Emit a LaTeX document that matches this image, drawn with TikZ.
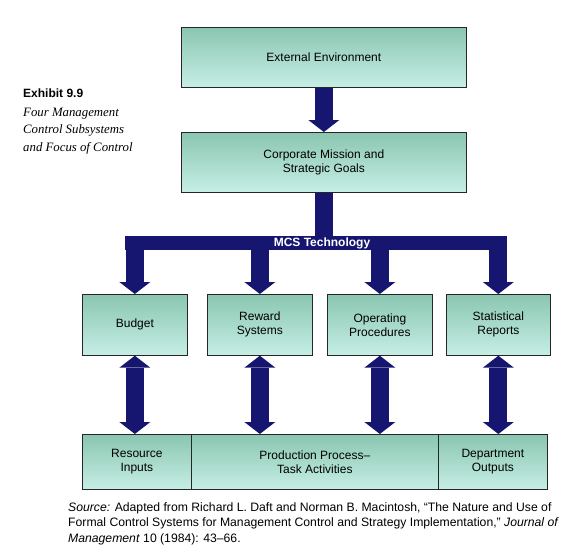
\documentclass[tikz,border=0pt]{standalone}
\usepackage{fontspec}
\setmainfont{Liberation Sans}
\newfontfamily\exfont{Liberation Serif}
\usetikzlibrary{arrows.meta}
\definecolor{navy}{RGB}{22,22,112}
\definecolor{boxtop}{RGB}{138,198,176}
\definecolor{boxbot}{RGB}{198,238,230}
\begin{document}
\begin{tikzpicture}[x=1pt,y=-1pt,
  box/.style={draw=black!85, line width=0.7pt, top color=boxtop, bottom color=boxbot,
    font=\fontsize{12}{14}\selectfont, align=center, inner sep=0pt, anchor=north west},
  arr/.style={draw=navy, line width=18pt,
    -{Triangle[length=12pt,width=31pt,line width=0pt 0 0]}},
  darr/.style={draw=navy, line width=18pt,
    {Triangle[length=12pt,width=31pt,line width=0pt 0 0]}-{Triangle[length=12pt,width=31pt,line width=0pt 0 0]}},
  shaft/.style={draw=navy, line width=18pt},
  lbl/.style={anchor=base west, inner sep=0pt},
]
\useasboundingbox (0,0) rectangle (574,554);

% top boxes
\node[box, minimum width=285pt, minimum height=60pt] (ext) at (181,27) {External Environment};
\node[box, minimum width=285pt, minimum height=60pt] (corp) at (181,132) {Corporate Mission and\\Strategic Goals};

% subsystem boxes
\node[box, minimum width=105pt, minimum height=61pt] (budget) at (82,294) {Budget};
\node[box, minimum width=105pt, minimum height=61pt] (reward) at (207,294) {Reward\\Systems};
\node[box, minimum width=105pt, minimum height=61pt] (oper) at (327,294) {Operating\\Procedures};
\node[box, minimum width=104pt, minimum height=61pt] (stat) at (446,294) {Statistical\\Reports};

% bottom boxes
\node[box, minimum width=109pt, minimum height=55pt] (res) at (82,434) {Resource\\Inputs};
\node[box, minimum width=247pt, minimum height=55pt] (prod) at (191,434) {Production Process--\\Task Activities};
\node[box, minimum width=109pt, minimum height=55pt] (dept) at (438,434) {Department\\Outputs};

% MCS bar
\node[fill=navy, inner sep=0pt, minimum width=382pt, minimum height=14pt, anchor=north west] (bar) at (125,236) {};

% arrows
\draw[arr] (ext.south) -- (corp.north);
\draw[shaft] (corp.south) -- (corp.south |- bar.center);
\draw[arr] (bar.center -| budget.north) -- (budget.north);
\draw[arr] (bar.center -| reward.north) -- (reward.north);
\draw[arr] (bar.center -| oper.north) -- (oper.north);
\draw[arr] (bar.center -| stat.north) -- (stat.north);

\draw[darr] (budget.south) -- (budget.south |- res.north);
\draw[darr] (reward.south) -- (reward.south |- prod.north);
\draw[darr] (oper.south) -- (oper.south |- prod.north);
\draw[darr] (stat.south) -- (stat.south |- dept.north);

% bar label
\node[text=white, font=\bfseries\fontsize{12}{12}\selectfont, inner sep=0pt] (mcs) at (322,243) {MCS Technology};

% exhibit caption
\node[lbl, font=\bfseries\fontsize{12}{12}\selectfont] (exh) at (23,97) {Exhibit 9.9};
\node[lbl, font=\exfont\itshape\fontsize{12.8}{14}\selectfont] (c1) at (23,116) {Four Management};
\node[lbl, font=\exfont\itshape\fontsize{12.8}{14}\selectfont] (c2) at (23,133.5) {Control Subsystems};
\node[lbl, font=\exfont\itshape\fontsize{12.8}{14}\selectfont] (c3) at (23,151) {and Focus of Control};

% source
\node[lbl, font=\fontsize{12.2}{14}\selectfont] (s1) at (68,511) {\textit{Source:} Adapted from Richard L. Daft and Norman B. Macintosh, “The Nature and Use of};
\node[lbl, font=\fontsize{12.2}{14}\selectfont] (s2) at (68,526.5) {Formal Control Systems for Management Control and Strategy Implementation,” \textit{Journal of}};
\node[lbl, font=\fontsize{12.2}{14}\selectfont] (s3) at (68,542) {\textit{Management} 10 (1984): 43--66.};
\end{tikzpicture}
\end{document}
